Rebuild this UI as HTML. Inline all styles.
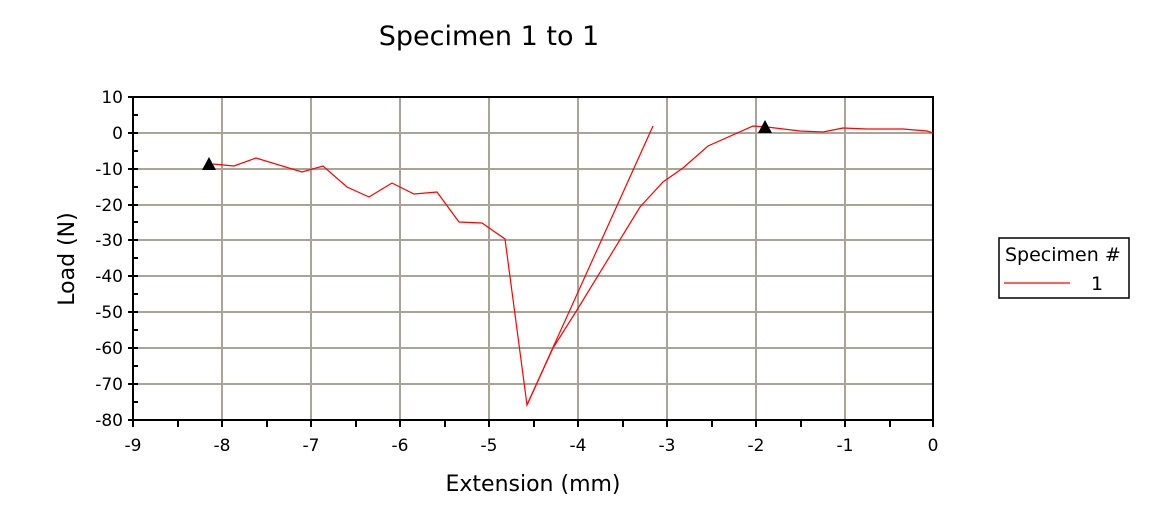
<!DOCTYPE html>
<html><head><style>body{margin:0;background:#fff}svg{display:block}</style></head><body>
<svg width="1166" height="526" xmlns="http://www.w3.org/2000/svg" font-family="DejaVu Sans, Liberation Sans, sans-serif">
<rect width="1166" height="526" fill="#fff"/>
<text x="489" y="45" font-size="27" text-anchor="middle">Specimen 1 to 1</text>
<g stroke="#a8a498" stroke-width="2">
<line x1="222" y1="97" x2="222" y2="420"/><line x1="311" y1="97" x2="311" y2="420"/><line x1="400" y1="97" x2="400" y2="420"/><line x1="489" y1="97" x2="489" y2="420"/><line x1="578" y1="97" x2="578" y2="420"/><line x1="667" y1="97" x2="667" y2="420"/><line x1="756" y1="97" x2="756" y2="420"/><line x1="845" y1="97" x2="845" y2="420"/>
<line x1="133" y1="133" x2="933" y2="133"/><line x1="133" y1="169" x2="933" y2="169"/><line x1="133" y1="205" x2="933" y2="205"/><line x1="133" y1="240" x2="933" y2="240"/><line x1="133" y1="276" x2="933" y2="276"/><line x1="133" y1="312" x2="933" y2="312"/><line x1="133" y1="348" x2="933" y2="348"/><line x1="133" y1="384" x2="933" y2="384"/>
</g>
<rect x="133" y="97" width="800" height="323" fill="none" stroke="#000" stroke-width="2"/>
<g stroke="#000" stroke-width="2">
<path d="M133 420v7M178 420v7M222 420v7M267 420v7M311 420v7M356 420v7M400 420v7M445 420v7M489 420v7M534 420v7M578 420v7M623 420v7M667 420v7M712 420v7M756 420v7M801 420v7M845 420v7M890 420v7M933 420v7"/>
<path d="M128 97h10M133 115h5M128 133h10M133 151h5M128 169h10M133 187h5M128 205h10M133 222h5M128 240h10M133 258h5M128 276h10M133 294h5M128 312h10M133 330h5M128 348h10M133 366h5M128 384h10M133 402h5M128 420h10"/>
</g>
<g font-size="17" text-anchor="end">
<text x="123" y="103">10</text><text x="123" y="139">0</text><text x="123" y="175">-10</text><text x="123" y="211">-20</text><text x="123" y="246">-30</text><text x="123" y="282">-40</text><text x="123" y="318">-50</text><text x="123" y="354">-60</text><text x="123" y="390">-70</text><text x="123" y="426">-80</text>
</g>
<g font-size="17" text-anchor="middle">
<text x="133" y="451">-9</text><text x="222" y="451">-8</text><text x="311" y="451">-7</text><text x="400" y="451">-6</text><text x="489" y="451">-5</text><text x="578" y="451">-4</text><text x="667" y="451">-3</text><text x="756" y="451">-2</text><text x="845" y="451">-1</text><text x="933" y="451">0</text>
</g>
<text x="533" y="491" font-size="22" text-anchor="middle">Extension (mm)</text>
<text transform="translate(74,259) rotate(-90)" font-size="22" text-anchor="middle">Load (N)</text>
<g fill="none" stroke="#ff0000" stroke-width="1.2">
<polyline points="213,164 234,166 256,158 302,172 323,166 347,187 369,197 392,183 414,194 437,192 459,222 482,223 505,239 527,405 653,126"/>
<polyline points="527,405 553,348 577,310 640,207 663,182 683,168 708,146 753,126 767,127 800,131 823,132 843,128 867,129 903,129 927,131 933,133"/>
</g>
<polygon points="209,157 202,170 216,170" fill="#000"/>
<polygon points="765,120 758,133 772,133" fill="#000"/>
<rect x="999" y="238" width="130" height="60" fill="#fff" stroke="#000" stroke-width="1.5"/>
<text x="1005" y="261" font-size="19">Specimen #</text>
<line x1="1004" y1="283" x2="1070" y2="283" stroke="#ff0000" stroke-width="1.2"/>
<text x="1097" y="290" font-size="19" text-anchor="middle">1</text>
</svg>
</body></html>
